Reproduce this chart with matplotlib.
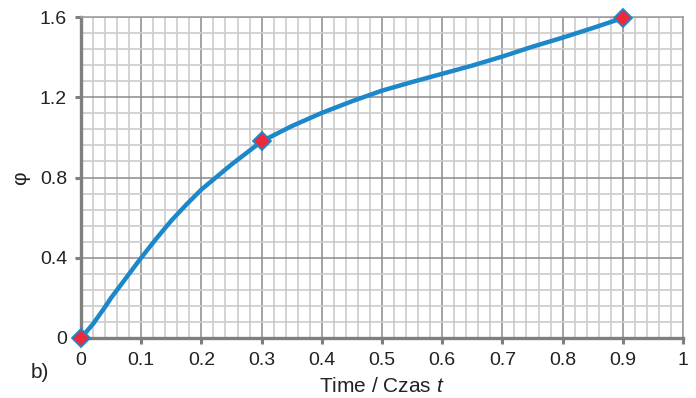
import numpy as np
import matplotlib
matplotlib.use('Agg')
import matplotlib.pyplot as plt
from matplotlib.ticker import MultipleLocator

plt.rcParams['font.family'] = ['Liberation Sans', 'DejaVu Sans']
plt.rcParams['mathtext.fontset'] = 'custom'
plt.rcParams['mathtext.it'] = 'Liberation Sans:italic'
plt.rcParams['mathtext.rm'] = 'Liberation Sans'

# curve
t = [0, 0.02, 0.04, 0.05, 0.075, 0.1, 0.125, 0.15, 0.175, 0.2, 0.25, 0.3, 0.35, 0.4, 0.45,
     0.5, 0.55, 0.6, 0.65, 0.7, 0.75, 0.8, 0.85, 0.9]
phi = [0, 0.07, 0.155, 0.2, 0.3, 0.4, 0.495, 0.585, 0.665, 0.74, 0.865, 0.98, 1.056, 1.122, 1.18,
       1.233, 1.276, 1.317, 1.358, 1.403, 1.452, 1.497, 1.545, 1.595]

# marked points
t_pts = [0, 0.3, 0.9]
phi_pts = [0, 0.98, 1.595]

xticks = [0, 0.1, 0.2, 0.3, 0.4, 0.5, 0.6, 0.7, 0.8, 0.9, 1]
xlabels = ['0', '0.1', '0.2', '0.3', '0.4', '0.5', '0.6', '0.7', '0.8', '0.9', '1']
yticks = [0, 0.4, 0.8, 1.2, 1.6]
ylabels = ['0', '0.4', '0.8', '1.2', '1.6']

fig = plt.figure(figsize=(6.96, 3.98), dpi=100)
ax = fig.add_axes([81 / 696, 1 - 338 / 398, 602 / 696, 321 / 398])

ax.set_xlim(0, 1)
ax.set_ylim(0, 1.6)
ax.xaxis.set_minor_locator(MultipleLocator(0.02))
ax.yaxis.set_minor_locator(MultipleLocator(0.08))
ax.set_xticks(xticks)
ax.set_xticklabels(xlabels)
ax.set_yticks(yticks)
ax.set_yticklabels(ylabels)

ax.grid(which='minor', color='#cccccc', lw=1.2, zorder=0)
ax.grid(which='major', color='#8a8a8a', lw=1.1, zorder=1)
ax.set_axisbelow(True)

for s in ['top', 'right']:
    ax.spines[s].set_color('#a0a0a0')
    ax.spines[s].set_linewidth(1.2)
for s in ['left', 'bottom']:
    ax.spines[s].set_color('#7f7f7f')
    ax.spines[s].set_linewidth(2.4)

ax.tick_params(which='major', length=4, width=2.2, color='#7f7f7f',
               labelsize=14, labelcolor='#222222', pad=6)
ax.tick_params(which='minor', length=0)

ax.plot(t, phi, color='#1c87c9', lw=3.2, solid_capstyle='round', solid_joinstyle='round',
        zorder=3, clip_on=False)
ax.plot(t_pts, phi_pts, ls='none', marker='D', ms=9, mfc='#ec2a3b', mec='#1c87c9',
        mew=1.3, zorder=4, clip_on=False)

fig.text(382 / 696, 1 - 387 / 398, 'Time / Czas $t$', ha='center', va='center',
         fontsize=15, color='#222222')
fig.text(21 / 696, 1 - 178 / 398, 'φ', rotation=90, ha='center', va='center',
         fontsize=15, color='#222222')
fig.text(40 / 696, 1 - 373 / 398, 'b)', ha='center', va='center',
         fontsize=15, color='#222222')

fig.savefig('out.png', dpi=100)
